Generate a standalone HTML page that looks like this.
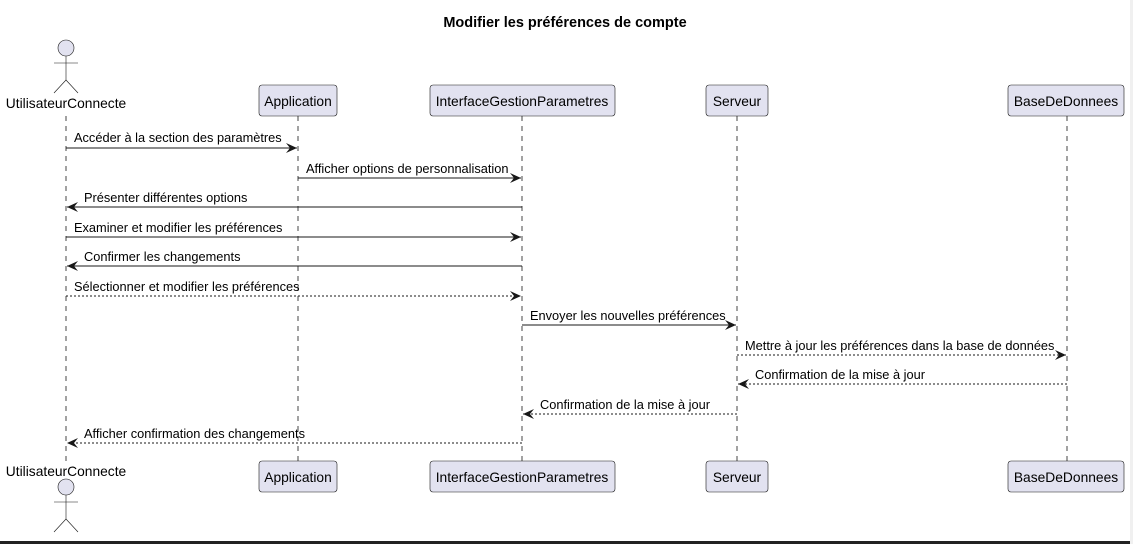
<!DOCTYPE html>
<html><head><meta charset="utf-8"><style>
html,body{margin:0;padding:0;background:#fff;}
svg{display:block;font-family:"Liberation Sans",Arial,sans-serif;}
</style></head><body>
<svg width="1133" height="544" viewBox="0 0 1133 544" xmlns="http://www.w3.org/2000/svg">
<rect width="1133" height="544" fill="#fff"/>
<text x="565" y="27" font-size="14.5" font-weight="bold" text-anchor="middle" fill="#000">Modifier les préférences de compte</text>
<g stroke="#181818" stroke-width="0.8" stroke-dasharray="5,5">
<line x1="66" y1="116" x2="66" y2="461"/>
<line x1="298" y1="116" x2="298" y2="461"/>
<line x1="522" y1="116" x2="522" y2="461"/>
<line x1="737" y1="116" x2="737" y2="461"/>
<line x1="1067" y1="116" x2="1067" y2="461"/>
</g>
<g fill="#e2e2f0" stroke="#181818" stroke-width="0.6">
<rect x="259" y="85" width="78" height="31" rx="3"/>
<rect x="430" y="85" width="185" height="31" rx="3"/>
<rect x="706" y="85" width="62" height="31" rx="3"/>
<rect x="1008" y="85" width="116" height="31" rx="3"/>
<rect x="259" y="461" width="78" height="31" rx="3"/>
<rect x="430" y="461" width="185" height="31" rx="3"/>
<rect x="706" y="461" width="62" height="31" rx="3"/>
<rect x="1008" y="461" width="116" height="31" rx="3"/>
</g>
<g font-size="13.8" fill="#000" text-anchor="middle">
<text x="298" y="106">Application</text>
<text x="522" y="106">InterfaceGestionParametres</text>
<text x="737" y="106">Serveur</text>
<text x="1066" y="106">BaseDeDonnees</text>
<text x="298" y="482">Application</text>
<text x="522" y="482">InterfaceGestionParametres</text>
<text x="737" y="482">Serveur</text>
<text x="1066" y="482">BaseDeDonnees</text>
<text x="66" y="108">UtilisateurConnecte</text>
<text x="66" y="476">UtilisateurConnecte</text>
</g>
<g stroke="#181818" stroke-width="0.6" fill="none">
<circle cx="66" cy="48" r="8" fill="#e2e2f0"/>
<line x1="66" y1="56" x2="66" y2="80"/><line x1="54" y1="63" x2="78" y2="63"/>
<line x1="66" y1="80" x2="54" y2="93"/><line x1="66" y1="80" x2="78" y2="93"/>
<circle cx="66" cy="487" r="8" fill="#e2e2f0"/>
<line x1="66" y1="495" x2="66" y2="519"/><line x1="54" y1="502" x2="78" y2="502"/>
<line x1="66" y1="519" x2="54" y2="532"/><line x1="66" y1="519" x2="78" y2="532"/>
</g>
<defs>
<marker id="a" markerWidth="12" markerHeight="10" refX="11" refY="5" orient="auto" markerUnits="userSpaceOnUse"><path d="M0,0 L11,5 L0,10 L4,5 Z" fill="#181818"/></marker>
</defs>
<g stroke="#181818" stroke-width="1" marker-end="url(#a)">
<line x1="66" y1="148" x2="297" y2="148"/>
<line x1="298" y1="178" x2="521" y2="178"/>
<line x1="522" y1="207" x2="67" y2="207"/>
<line x1="66" y1="237" x2="521" y2="237"/>
<line x1="522" y1="266" x2="67" y2="266"/>
<line x1="66" y1="296" x2="521" y2="296" stroke-dasharray="2,2"/>
<line x1="522" y1="325" x2="736" y2="325"/>
<line x1="737" y1="355" x2="1066" y2="355" stroke-dasharray="2,2"/>
<line x1="1067" y1="384" x2="738" y2="384" stroke-dasharray="2,2"/>
<line x1="737" y1="414" x2="523" y2="414" stroke-dasharray="2,2"/>
<line x1="522" y1="443" x2="67" y2="443" stroke-dasharray="2,2"/>
</g>
<g font-size="12.8" fill="#000">
<text x="74" y="142">Accéder à la section des paramètres</text>
<text x="306" y="173">Afficher options de personnalisation</text>
<text x="84" y="202">Présenter différentes options</text>
<text x="74" y="232">Examiner et modifier les préférences</text>
<text x="84" y="261">Confirmer les changements</text>
<text x="74" y="291">Sélectionner et modifier les préférences</text>
<text x="530" y="320">Envoyer les nouvelles préférences</text>
<text x="745" y="350">Mettre à jour les préférences dans la base de données</text>
<text x="755" y="379">Confirmation de la mise à jour</text>
<text x="540" y="409">Confirmation de la mise à jour</text>
<text x="84" y="438">Afficher confirmation des changements</text>
</g>
<rect x="0" y="541" width="1133" height="3" fill="#222"/>
<rect x="1130" y="0" width="3" height="544" fill="#f0f0f0"/>
</svg>
</body></html>
